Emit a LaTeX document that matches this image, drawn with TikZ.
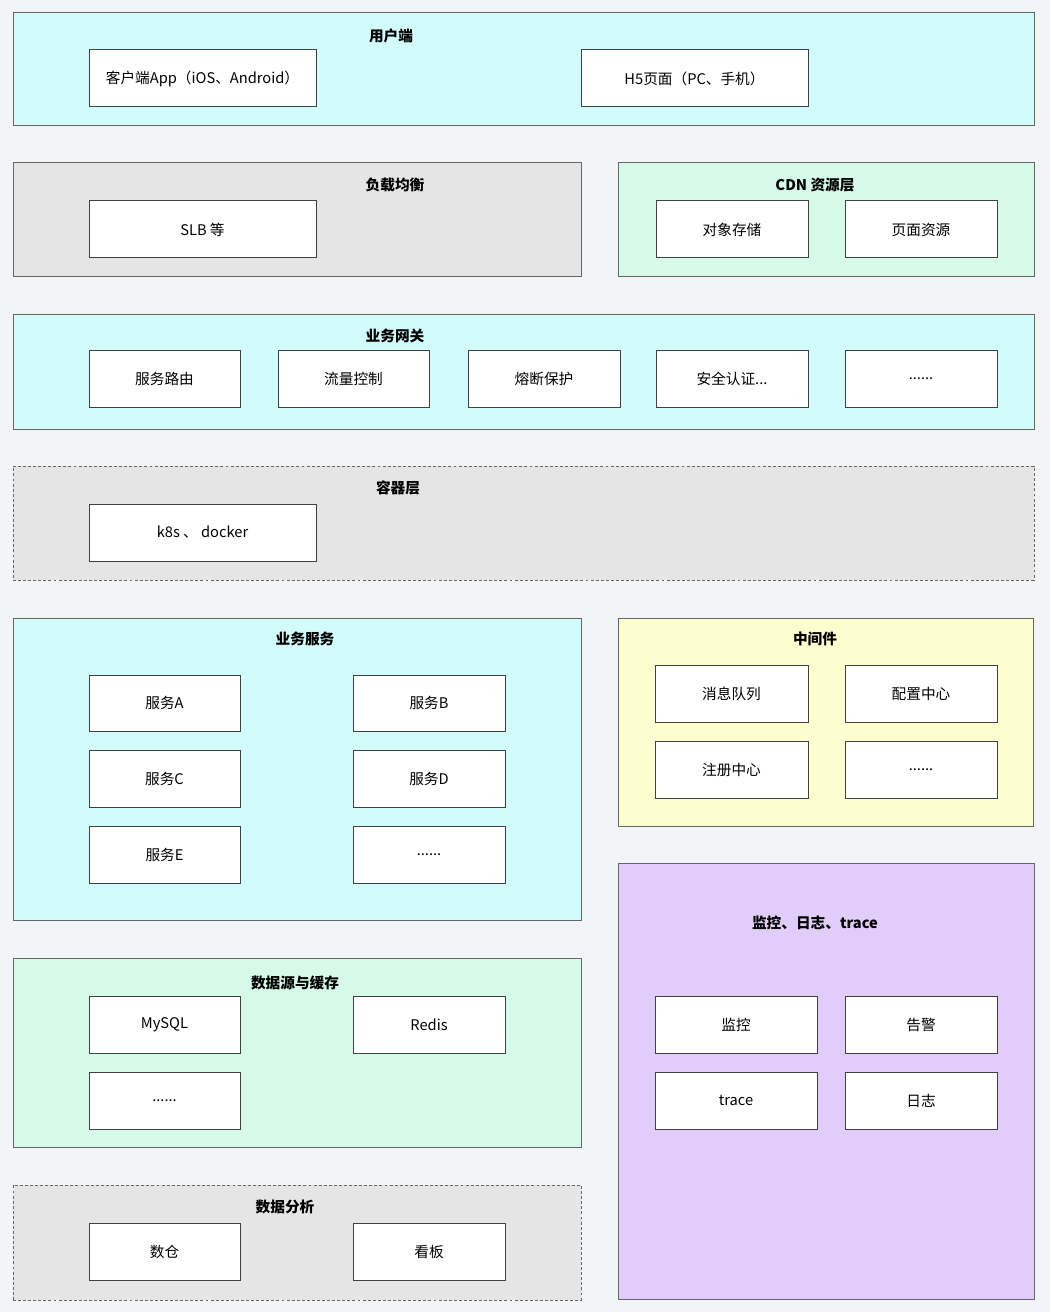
\documentclass[tikz,border=0pt]{standalone}
\usepackage{fontspec}
\setmainfont{Noto Sans CJK SC}
\begin{document}
\begin{tikzpicture}[x=0.75pt,y=-0.75pt,
  every node/.style={font=\fontsize{11}{12}\selectfont, text=black},
  box/.style={draw=black!75, fill=white, line width=0.75pt, inner sep=0pt, outer sep=0pt},
  layer/.style={draw=black!60, line width=0.75pt, inner sep=0pt, outer sep=0pt},
  dlayer/.style={layer, dash pattern=on 2.2pt off 1.6pt},
  ttl/.style={font=\fontsize{11}{12}\selectfont\bfseries}]
\definecolor{bgc}{HTML}{F3F4F6}
\definecolor{cyanc}{HTML}{D2FCFC}
\definecolor{grayc}{HTML}{E5E5E5}
\definecolor{mintc}{HTML}{D5FAE7}
\definecolor{yelc}{HTML}{FEFDD0}
\definecolor{purc}{HTML}{E0CDF9}
\newcommand\bx[7][box]{\node[#1, minimum width={(#4-#2)*0.75pt}, minimum height={(#5-#3)*0.75pt}] (#7) at ({(#2+#4)/2},{(#3+#5)/2}) {#6};}
\fill[bgc] (0,0) rectangle (1050,1312);
\useasboundingbox (0,0) rectangle (1050,1312);
% layers
\bx[layer,fill=cyanc]{13}{13}{1034}{126}{}{L1}
\bx[layer,fill=grayc]{13}{163}{581}{277}{}{L2}
\bx[layer,fill=mintc]{618}{163}{1034}{277}{}{L3}
\bx[layer,fill=cyanc]{13}{315}{1034}{429}{}{L4}
\bx[dlayer,fill=grayc]{13}{466}{1034}{580}{}{L5}
\bx[layer,fill=cyanc]{13}{618}{581}{920}{}{L6}
\bx[layer,fill=yelc]{618}{618}{1033}{826}{}{L7}
\bx[layer,fill=mintc]{13}{958}{581}{1147}{}{L8}
\bx[dlayer,fill=grayc]{13}{1185}{581}{1300}{}{L9}
\bx[layer,fill=purc]{618}{863}{1034}{1299}{}{L10}
% titles
\node[ttl] (t1) at (391,36) {用户端};
\node[ttl] (t2) at (395,185) {负载均衡};
\node[ttl] (t3) at (815,185) {CDN 资源层};
\node[ttl] (t4) at (395,336) {业务网关};
\node[ttl] (t5) at (398,488) {容器层};
\node[ttl] (t6) at (305,639) {业务服务};
\node[ttl] (t7) at (815,639) {中间件};
\node[ttl] (t8) at (295,983) {数据源与缓存};
\node[ttl] (t9) at (285,1207) {数据分析};
\node[ttl] (t10) at (815,923) {监控、日志、trace};
% user
\bx{89}{50}{316}{107}{客户端App（iOS、Android）}{app}
\bx{581}{50}{808}{107}{H5页面（PC、手机）}{h5}
% slb / cdn
\bx{89}{201}{316}{258}{SLB 等}{slb}
\bx{656}{201}{808}{258}{对象存储}{oss}
\bx{845}{201}{997}{258}{页面资源}{page}
% gateway
\bx{89}{350}{240}{407}{服务路由}{g1}
\bx{278}{350}{429}{407}{流量控制}{g2}
\bx{468}{350}{620}{407}{熔断保护}{g3}
\bx{656}{350}{808}{407}{安全认证...}{g4}
\bx{845}{350}{997}{407}{......}{g5}
% container
\bx{89}{504}{316}{561}{k8s 、 docker}{k8s}
% services
\bx{89}{675}{240}{731}{服务A}{sa}
\bx{353}{675}{505}{731}{服务B}{sb}
\bx{89}{750}{240}{807}{服务C}{sc}
\bx{353}{750}{505}{807}{服务D}{sd}
\bx{89}{826}{240}{883}{服务E}{se}
\bx{353}{826}{505}{883}{......}{sf}
% middleware
\bx{655}{665}{808}{722}{消息队列}{m1}
\bx{845}{665}{997}{722}{配置中心}{m2}
\bx{655}{741}{808}{798}{注册中心}{m3}
\bx{845}{741}{997}{798}{......}{m4}
% data
\bx{89}{996}{240}{1053}{MySQL}{d1}
\bx{353}{996}{505}{1053}{Redis}{d2}
\bx{89}{1072}{240}{1129}{......}{d3}
% analysis
\bx{89}{1223}{240}{1280}{数仓}{a1}
\bx{353}{1223}{505}{1280}{看板}{a2}
% monitor
\bx{655}{996}{817}{1053}{监控}{o1}
\bx{845}{996}{997}{1053}{告警}{o2}
\bx{655}{1072}{817}{1129}{trace}{o3}
\bx{845}{1072}{997}{1129}{日志}{o4}
\end{tikzpicture}
\end{document}
